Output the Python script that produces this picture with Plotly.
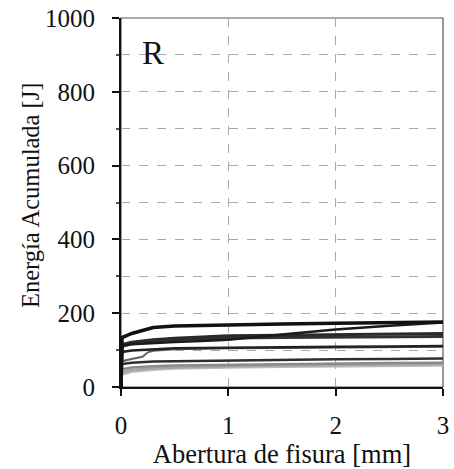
import plotly.graph_objects as go

# Crack opening [mm]
x_open = [0, 0.01, 0.1, 0.2, 0.25, 0.3, 0.5, 0.75, 1, 1.5, 2, 2.5, 3]

# Accumulated energy [J] for each specimen
s1 = [0, 134, 145, 154, 158, 161, 165, 167, 169, 171, 173, 175, 176]
s2 = [0, 113, 116, 118, 119, 120, 122, 125, 128, 142, 156, 166, 175]
s3 = [0, 115, 121, 125, 127, 128, 132, 136, 139, 140, 141, 143, 145]
s4 = [0, 110, 117, 121, 123, 124, 128, 131, 133, 134, 135, 136, 137]
s5 = [0, 95, 99, 101, 102, 103, 105, 106, 107, 108, 109, 110, 111]
s6 = [0, 70, 76, 82, 94, 98, 102, 104, 105, 106, 107, 108, 109]
s7 = [0, 62, 66, 68, 68, 69, 70, 71, 71, 73, 75, 76, 77]
s8 = [0, 48, 53, 55, 56, 56, 58, 59, 60, 62, 63, 65, 66]
s9 = [0, 40, 46, 49, 50, 51, 53, 55, 56, 58, 59, 61, 62]
s10 = [0, 34, 41, 45, 46, 47, 50, 52, 53, 55, 56, 57, 58]

series = [s10, s9, s8, s7, s6, s5, s4, s3, s2, s1]
colors = ["#bcbcbc", "#a4a4a4", "#8a8a8a", "#2e2e2e", "#606060",
          "#222222", "#333333", "#2a2a2a", "#1a1a1a", "#111111"]
widths = [2.5, 2.5, 2.5, 2.5, 2, 2.5, 3, 3, 2.5, 3.5]

x_ticks = [0, 1, 2, 3]
y_ticks = [0, 200, 400, 600, 800, 1000]

FONT = "Liberation Serif"
tick_font = dict(family=FONT, size=25, color="#111")

fig = go.Figure()
for ys, c, w in zip(series, colors, widths):
    fig.add_trace(go.Scatter(x=x_open, y=ys, mode="lines",
                             line=dict(color=c, width=w), showlegend=False,
                             hoverinfo="skip"))

# white box behind the panel label
fig.add_shape(type="rect", xref="x domain", yref="y domain",
              x0=0.003, x1=0.205, y0=0.78, y1=0.997,
              fillcolor="white", line=dict(width=0), layer="below")
# thin frame (top/right)
fig.add_shape(type="rect", xref="x domain", yref="y domain",
              x0=0, x1=1, y0=0, y1=1,
              line=dict(color="#555555", width=1.2), layer="below")

fig.add_annotation(x=0.1, y=0.905, xref="x domain", yref="y domain",
                   xanchor="center", yanchor="middle",
                   text="R", showarrow=False,
                   font=dict(family=FONT, size=33, color="#111"))

# y-axis title
fig.add_annotation(x=-0.283, y=0.52, xref="paper", yref="paper",
                   xanchor="center", yanchor="middle",
                   text="Energía Acumulada [J]", showarrow=False, textangle=-90,
                   font=dict(family=FONT, size=24.5, color="#111"))

fig.update_layout(
    template="none",
    width=454, height=469,
    margin=dict(l=121, r=11, t=18, b=82),
    paper_bgcolor="white", plot_bgcolor="white",
    font=dict(family=FONT, size=25, color="#111"),
)
fig.update_xaxes(
    range=[0, 3], tickvals=x_ticks, ticks="outside", ticklen=7,
    tickcolor="#111", tickwidth=1.5, automargin=False, tickfont=tick_font,
    ticklabelstandoff=8,
    showline=True, linecolor="#111", linewidth=1.8,
    showgrid=True, gridcolor="#a8a8a8", griddash="dash", gridwidth=1.3,
    zeroline=False,
    title=dict(text="Abertura de fisura [mm]",
               font=dict(family=FONT, size=26.5, color="#111"), standoff=4),
)
fig.update_yaxes(
    range=[0, 1000], tickvals=y_ticks, ticks="outside", ticklen=7,
    tickcolor="#111", tickwidth=1.5, automargin=False, tickfont=tick_font,
    ticklabelstandoff=12,
    showline=True, linecolor="#111", linewidth=2,
    showgrid=True, gridcolor="#a8a8a8", griddash="dash", gridwidth=1.3,
    zeroline=False,
    minor=dict(dtick=100, tick0=0, showgrid=True, gridcolor="#a8a8a8",
               griddash="dash", gridwidth=1.3, ticks="outside", ticklen=3,
               tickcolor="#555"),
)

fig.write_html("out.html", config={"displayModeBar": False},
               post_script="document.body.style.margin='0';")
